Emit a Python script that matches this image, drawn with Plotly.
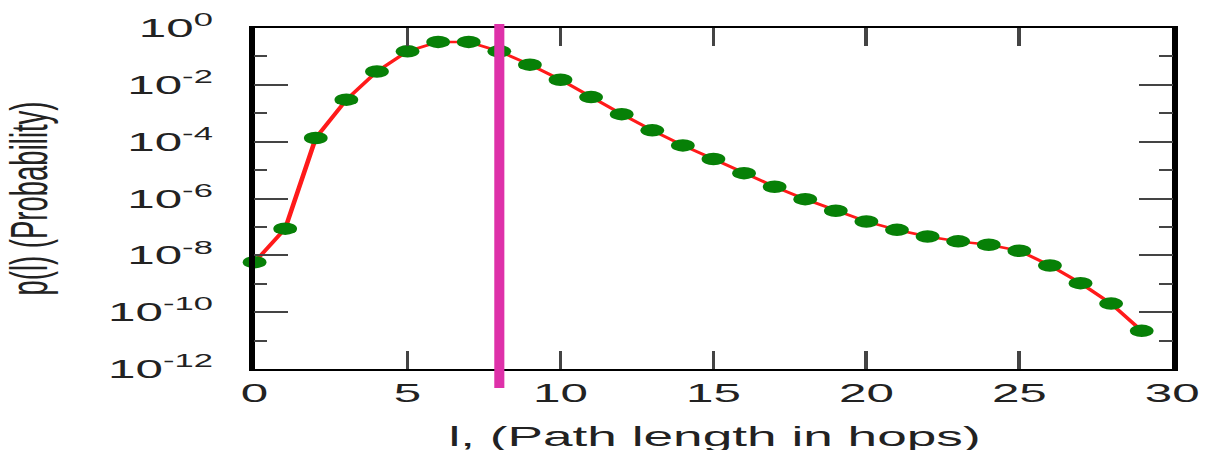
import plotly.graph_objects as go

# path length distribution
hops = list(range(30))
prob = [5.75e-9, 8.7e-8, 1.35e-4, 3.0e-3, 2.95e-2, 0.151, 0.324, 0.324, 0.151, 5.13e-2,
        1.51e-2, 3.7e-3, 9.3e-4, 2.5e-4, 7.4e-5, 2.45e-5, 7.8e-6, 2.6e-6, 9.5e-7, 3.7e-7,
        1.55e-7, 7.9e-8, 4.6e-8, 3.1e-8, 2.35e-8, 1.45e-8, 4.4e-9, 1.05e-9, 2.0e-10, 2.2e-11]
mark_hop = 8

x_ticks = [0, 5, 10, 15, 20, 25, 30]
y_major = [1e0, 1e-2, 1e-4, 1e-6, 1e-8, 1e-10, 1e-12]
y_labels = ["10<sup>0</sup>", "10<sup>-2</sup>", "10<sup>-4</sup>", "10<sup>-6</sup>",
            "10<sup>-8</sup>", "10<sup>-10</sup>", "10<sup>-12</sup>"]
y_minor = [1e-1, 1e-3, 1e-5, 1e-7, 1e-9, 1e-11]

# the original picture is squashed, so draw narrow and stretch sideways
STRETCH = 1.9
W = 637
H = 450
font = "Liberation Sans, Arial, sans-serif"

fig = go.Figure()
fig.add_trace(go.Scatter(
    x=hops, y=prob, mode="lines+markers",
    line=dict(color="#ff1a1a", width=2.5),
    marker=dict(color="#078007", size=12.5),
    cliponaxis=False, showlegend=False,
))

fig.add_shape(type="line", xref="x", yref="paper",
              x0=mark_hop, x1=mark_hop, y0=-0.056, y1=1.012,
              line=dict(color="#de31a9", width=5.3))

# x title sits low, partly off the bottom edge like in the source image
fig.add_annotation(text="l, (Path length in hops)", xref="paper", yref="paper",
                   x=0.5, y=-0.147, xanchor="center", yanchor="top",
                   showarrow=False, font=dict(size=28))

fig.update_layout(
    width=W, height=H,
    margin=dict(l=134, r=20, t=28, b=81),
    plot_bgcolor="white", paper_bgcolor="white",
    font=dict(family=font, size=26, color="#222"),
)
fig.update_xaxes(
    range=[0, 30], tickmode="array", tickvals=x_ticks,
    ticks="inside", ticklen=18, tickwidth=2, tickcolor="#444",
    showline=True, linecolor="black", linewidth=2, mirror="allticks",
    showgrid=False, zeroline=False, automargin=False,
    tickfont=dict(size=26), ticklabelstandoff=0,
)
fig.update_yaxes(
    type="log", range=[-12, 0], tickmode="array", tickvals=y_major, ticktext=y_labels,
    ticks="inside", ticklen=18, tickwidth=2, tickcolor="#444",
    minor=dict(tickvals=y_minor, ticks="inside", ticklen=7, tickwidth=2, tickcolor="#444"),
    showline=True, linecolor="black", linewidth=2.5, mirror="allticks",
    showgrid=False, zeroline=False, automargin=False,
    tickfont=dict(size=26), ticklabelstandoff=14,
    title=dict(text="p(l) (Probability)", font=dict(size=27.5), standoff=25),
)

post = """
document.body.style.margin = '0';
var gd = document.getElementById('{plot_id}');
gd.style.transformOrigin = '0 0';
gd.style.transform = 'scaleX(%s)';
""" % STRETCH

fig.write_html("out.html", config={"displayModeBar": False}, post_script=post)
